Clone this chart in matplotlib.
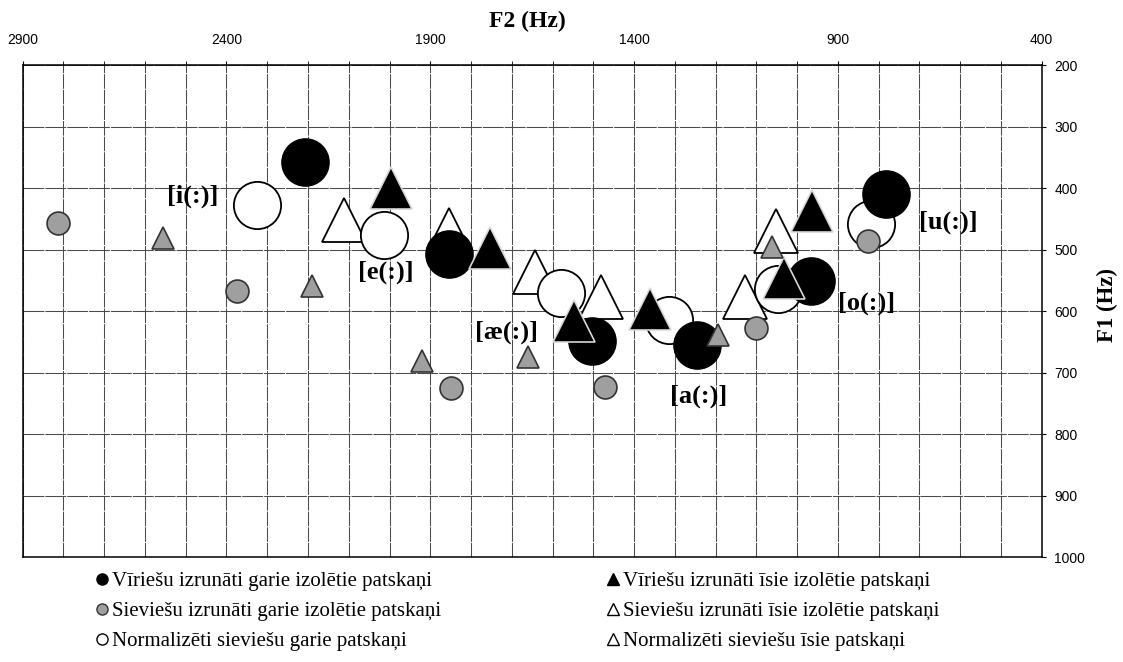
import numpy as np
import matplotlib
matplotlib.use("Agg")
import matplotlib.pyplot as plt
from matplotlib.lines import Line2D

# ---- data (F2, F1 in Hz) : vowels i, e, ae, a, o, u ----
male_long_f2 = [2207, 1855, 1503, 1245, 967, 783]
male_long_f1 = [357, 508, 649, 656, 552, 410]
female_long_f2 = [2813, 2374, 1849, 1472, 1100, 826]
female_long_f1 = [457, 567, 725, 723, 627, 486]
norm_long_f2 = [2325, 2013, 1580, 1315, 1046, 818]
norm_long_f1 = [428, 477, 570, 615, 564, 458]
male_short_f2 = [1997, 1754, 1548, 1361, 1032, 963]
male_short_f1 = [400, 498, 616, 596, 547, 437]
female_short_f2 = [2555, 2189, 1920, 1661, 1194, 1062]
female_short_f1 = [482, 560, 682, 674, 639, 496]
norm_short_f2 = [2111, 1854, 1642, 1480, 1127, 1051]
norm_short_f1 = [452, 468, 537, 577, 577, 470]

vowel_labels = ["[i(:)]", "[e(:)]", "[æ(:)]", "[a(:)]", "[o(:)]", "[u(:)]"]
label_f2 = [2482, 2009, 1713, 1241, 829, 630]
label_f1 = [413, 537, 634, 738, 587, 455]

legend_labels = [
    "Vīriešu izrunāti garie izolētie patskaņi",
    "Sieviešu izrunāti garie izolētie patskaņi",
    "Normalizēti sieviešu garie patskaņi",
    "Vīriešu izrunāti īsie izolētie patskaņi",
    "Sieviešu izrunāti īsie izolētie patskaņi",
    "Normalizēti sieviešu īsie patskaņi",
]

x_major = [2900, 2400, 1900, 1400, 900, 400]
y_major = list(range(200, 1001, 100))

SERIF = ["Liberation Serif", "DejaVu Serif"]
SANS = ["Liberation Sans", "DejaVu Sans"]
GREY = "#9f9f9f"

fig = plt.figure(figsize=(11.23, 6.62), dpi=100)
ax = fig.add_axes([0.0202, 0.1586, 0.9074, 0.7432])

ax.set_xlim(2900, 400)
ax.set_ylim(1000, 200)
ax.xaxis.tick_top()
ax.yaxis.tick_right()
ax.set_xticks(x_major)
ax.set_xticks(np.arange(400, 2901, 100), minor=True)
ax.set_yticks(y_major)
ax.tick_params(axis="x", which="major", length=3, pad=10, labelsize=10)
ax.tick_params(axis="x", which="minor", length=3)
ax.tick_params(axis="y", length=3, pad=6, labelsize=10)
for lab in ax.get_xticklabels() + ax.get_yticklabels():
    lab.set_family(SANS)

ax.grid(True, axis="x", which="both", color="#4a4a4a", lw=0.75, ls=(0, (14, 1)))
ax.grid(True, axis="y", which="major", color="#4a4a4a", lw=0.75, ls=(0, (20, 1)))
ax.set_axisbelow(True)
for sp in ax.spines.values():
    sp.set_linewidth(1.1)

# markers (bottom to top)
ax.plot(norm_short_f2, norm_short_f1, ls="none", marker="^", ms=31,
        mfc="white", mec="black", mew=1.3, zorder=3)
ax.plot(norm_long_f2, norm_long_f1, ls="none", marker="o", ms=34,
        mfc="white", mec="black", mew=1.3, zorder=4)
ax.plot(male_long_f2, male_long_f1, ls="none", marker="o", ms=34,
        mfc="black", mec="black", mew=1.0, zorder=5)
ax.plot(female_long_f2, female_long_f1, ls="none", marker="o", ms=16.5,
        mfc=GREY, mec="#333333", mew=1.2, zorder=6)
ax.plot(male_short_f2, male_short_f1, ls="none", marker="^", ms=30,
        mfc="black", mec="#d8d8d8", mew=1.2, zorder=7)
ax.plot(female_short_f2, female_short_f1, ls="none", marker="^", ms=16.5,
        mfc=GREY, mec="#333333", mew=1.2, zorder=8)

for txt, fx, fy in zip(vowel_labels, label_f2, label_f1):
    ax.text(fx, fy, txt, ha="center", va="center", fontsize=19,
            fontweight="bold", family=SERIF, zorder=9)

fig.text(0.470, 0.968, "F2 (Hz)", ha="center", va="center", fontsize=17,
         fontweight="bold", family=SERIF)
fig.text(0.9866, 0.539, "F1 (Hz)", ha="center", va="center", rotation=90,
         fontsize=16.5, fontweight="bold", family=SERIF)

# legend
h_left = [
    Line2D([], [], ls="none", marker="o", ms=8, mfc="black", mec="black"),
    Line2D([], [], ls="none", marker="o", ms=8, mfc=GREY, mec="#333333", mew=1.0),
    Line2D([], [], ls="none", marker="o", ms=8, mfc="white", mec="black", mew=1.0),
]
h_right = [
    Line2D([], [], ls="none", marker="^", ms=8, mfc="black", mec="black"),
    Line2D([], [], ls="none", marker="^", ms=9, mfc="white", mec="black", mew=1.0),
    Line2D([], [], ls="none", marker="^", ms=9, mfc="white", mec="black", mew=1.0),
]
leg_kw = dict(frameon=False, loc="upper left", handlelength=0.55,
              handletextpad=0.2, labelspacing=0.5, borderpad=0,
              borderaxespad=0, prop={"family": SERIF, "size": 15})
leg1 = fig.legend(h_left, legend_labels[:3], bbox_to_anchor=(0.0855, 0.137), **leg_kw)
leg2 = fig.legend(h_right, legend_labels[3:], bbox_to_anchor=(0.541, 0.137), **leg_kw)

fig.savefig("out.png", dpi=100)
